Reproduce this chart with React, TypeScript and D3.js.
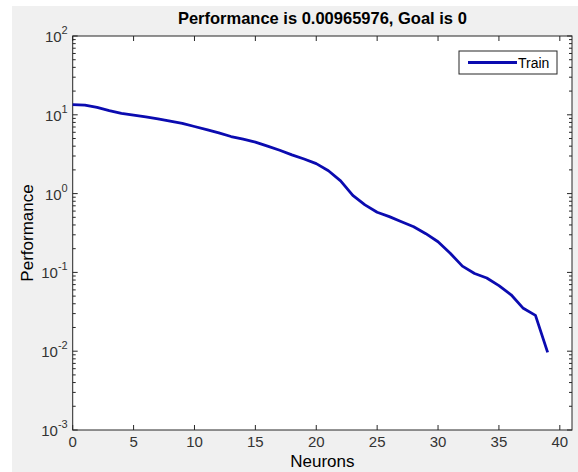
import React from "react";
import * as d3 from "d3";

// performance per neuron count
const neurons = [
  0, 1, 2, 3, 4, 5, 6, 7, 8, 9, 10, 11, 12, 13, 14, 15, 16, 17, 18, 19,
  20, 21, 22, 23, 24, 25, 26, 27, 28, 29, 30, 31, 32, 33, 34, 35, 36, 37, 38, 39,
];
const trainPerf = [
  13.5, 13.3, 12.4, 11.3, 10.4, 9.9, 9.4, 8.9, 8.3, 7.8,
  7.1, 6.5, 5.9, 5.3, 4.9, 4.5, 4.0, 3.55, 3.1, 2.75,
  2.4, 1.95, 1.45, 0.95, 0.72, 0.58, 0.51, 0.44, 0.38, 0.31,
  0.245, 0.175, 0.12, 0.097, 0.085, 0.068, 0.052, 0.035, 0.0285, 0.00965976,
];
const xTicks = [0, 5, 10, 15, 20, 25, 30, 35, 40];
const yExponents = [-3, -2, -1, 0, 1, 2];
const titleText = "Performance is 0.00965976, Goal is 0";

const W = 578;
const H = 472;
const left = 72.7;
const right = 572;
const top = 36;
const bottom = 430;
const font = "'Liberation Sans', Arial, sans-serif";
const axisColor = "#262626";
const lineColor = "#0b0bb0";

export default function App() {
  const x = d3.scaleLinear().domain([0, 41]).range([left, right]);
  const y = d3.scaleLog().domain([1e-3, 1e2]).range([bottom, top]);

  const pts: [number, number][] = neurons.map((n, i) => [n, trainPerf[i]]);
  const line = d3
    .line<[number, number]>()
    .x((d) => x(d[0]))
    .y((d) => y(d[1]));

  const yAll = y.ticks();
  const minor = yAll.filter((v) => {
    const e = Math.log10(v);
    return Math.abs(e - Math.round(e)) > 1e-9;
  });

  return (
    <svg
      width={W}
      height={H}
      style={{ position: "absolute", left: 0, top: 0, display: "block" }}
      fontFamily={font}
    >
      <rect x={0} y={0} width={W} height={H} fill="#ffffff" />
      <rect x={12} y={6} width={W - 12} height={H - 6} fill="#f0f0f0" />
      <rect x={left} y={top} width={right - left} height={bottom - top} fill="#ffffff" />

      {/* title */}
      <text
        x={(left + right) / 2}
        y={24}
        textAnchor="middle"
        fontSize={16.5}
        fontWeight="bold"
        fill="#000"
      >
        {titleText}
      </text>

      {/* x ticks */}
      {xTicks.map((t) => (
        <g key={"x" + t}>
          <line x1={x(t)} x2={x(t)} y1={bottom} y2={bottom - 5} stroke={axisColor} />
          <line x1={x(t)} x2={x(t)} y1={top} y2={top + 5} stroke={axisColor} />
          <text x={x(t)} y={447} textAnchor="middle" fontSize={15} fill="#333">
            {t}
          </text>
        </g>
      ))}

      {/* y minor ticks */}
      {minor.map((v, i) => (
        <g key={"m" + i}>
          <line x1={left} x2={left + 3} y1={y(v)} y2={y(v)} stroke={axisColor} />
          <line x1={right} x2={right - 3} y1={y(v)} y2={y(v)} stroke={axisColor} />
        </g>
      ))}

      {/* y major ticks */}
      {yExponents.map((e) => {
        const v = Math.pow(10, e);
        return (
          <g key={"y" + e}>
            <line x1={left} x2={left + 5} y1={y(v)} y2={y(v)} stroke={axisColor} />
            <line x1={right} x2={right - 5} y1={y(v)} y2={y(v)} stroke={axisColor} />
            <text x={left - 5} y={y(v) + 6} textAnchor="end" fontSize={15} fill="#333">
              10
              <tspan dy={-8} fontSize={11}>
                {e}
              </tspan>
            </text>
          </g>
        );
      })}

      {/* axes box */}
      <rect
        x={left}
        y={top}
        width={right - left}
        height={bottom - top}
        fill="none"
        stroke={axisColor}
        strokeWidth={1}
      />

      {/* data */}
      <path d={line(pts) || ""} fill="none" stroke={lineColor} strokeWidth={2.8} strokeLinejoin="round" />

      {/* legend */}
      <rect x={459} y={51} width={98} height={23} fill="#fff" stroke={axisColor} strokeWidth={1} />
      <line x1={468} x2={517} y1={62.5} y2={62.5} stroke={lineColor} strokeWidth={2.8} />
      <text x={518} y={68} fontSize={14} fill="#000">
        Train
      </text>

      {/* axis labels */}
      <text x={(left + right) / 2} y={467} textAnchor="middle" fontSize={17} fill="#000">
        Neurons
      </text>
      <text
        transform={`translate(33,${(top + bottom) / 2}) rotate(-90)`}
        textAnchor="middle"
        fontSize={17}
        fill="#000"
      >
        Performance
      </text>
    </svg>
  );
}
